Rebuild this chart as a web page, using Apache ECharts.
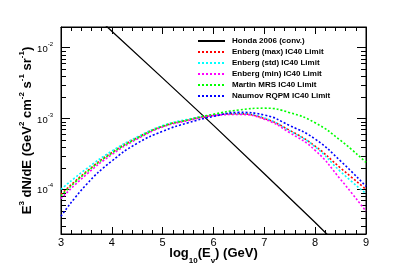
<!DOCTYPE html>
<html><head><meta charset="utf-8">
<script src="https://cdn.jsdelivr.net/npm/echarts@6/dist/echarts.min.js"></script>
<style>html,body{margin:0;padding:0;background:#fff}#c{width:407px;height:276px}</style>
</head><body><div id="c"></div>
<script>
// x: log10(E/GeV)
const logE = [3, 3.5, 4, 4.5, 5, 5.5, 6, 6.5, 7, 7.5, 8, 8.5, 9];
const hondaE = [3, 3.5, 4, 5, 6, 7, 8, 8.5, 9];
const honda      = [0.078, 0.0366, 0.0171, 0.00372, 8.0e-4, 1.66e-4, 3.4e-5, 1.5e-5, 6.7e-6];
const enbergMax  = [8.5e-5, 1.78e-4, 3.31e-4, 5.37e-4, 7.76e-4, 9.55e-4, 1.11e-3, 1.165e-3, 1.0e-3, 6.8e-4, 4.07e-4, 2.0e-4, 1.0e-4];
const enbergStd  = [1.0e-4, 1.95e-4, 3.47e-4, 5.50e-4, 7.94e-4, 9.77e-4, 1.12e-3, 1.165e-3, 1.02e-3, 6.7e-4, 3.98e-4, 1.78e-4, 8.7e-5];
const enbergMin  = [7.4e-5, 1.62e-4, 3.09e-4, 5.13e-4, 7.59e-4, 9.33e-4, 1.10e-3, 1.14e-3, 9.8e-4, 6.3e-4, 3.55e-4, 1.38e-4, 4.9e-5];
const martinMRS  = [8.1e-5, 1.74e-4, 3.24e-4, 5.25e-4, 7.76e-4, 9.55e-4, 1.15e-3, 1.32e-3, 1.40e-3, 1.21e-3, 8.7e-4, 4.9e-4, 2.4e-4];
const naumovRQPM = [4.17e-5, 1.17e-4, 2.51e-4, 4.47e-4, 6.61e-4, 8.7e-4, 1.07e-3, 1.22e-3, 1.12e-3, 7.94e-4, 5.13e-4, 2.51e-4, 1.10e-4];
const seriesNames = ['Honda 2006 (conv.)', 'Enberg (max) IC40 Limit', 'Enberg (std) IC40 Limit', 'Enberg (min) IC40 Limit', 'Martin MRS IC40 Limit', 'Naumov RQPM IC40 Limit'];
const xMin = 3, xMax = 9;
const yMin = 2.34e-5, yMax = 0.0196;
const yMinorTicks = [3e-5,4e-5,5e-5,6e-5,7e-5,8e-5,9e-5, 2e-4,3e-4,4e-4,5e-4,6e-4,7e-4,8e-4,9e-4, 2e-3,3e-3,4e-3,5e-3,6e-3,7e-3,8e-3,9e-3];

const FF = '"Liberation Sans", Arial, Helvetica, sans-serif';
const pair = (xs, ys) => xs.map((x, i) => [x, ys[i]]);
const dashed = (name, color, ys) => ({
  name, type: 'line', data: pair(logE, ys), symbol: 'none', smooth: 0.5,
  lineStyle: { color, width: 1.6, type: [2, 2] }, itemStyle: { color }
});

const chart = echarts.init(document.getElementById('c'), null, { renderer: 'canvas' });
const axisLineStyle = { show: true, lineStyle: { color: '#000', width: 1 } };
chart.setOption({
  animation: false,
  backgroundColor: '#fff',
  grid: { left: 61, top: 27, right: 41, bottom: 42, show: true, borderColor: '#000', borderWidth: 1 },
  legend: {
    data: seriesNames, orient: 'vertical', left: 197, top: 37, padding: 0,
    itemWidth: 27, itemHeight: 9, itemGap: 3,
    itemStyle: { opacity: 0 },
    textStyle: { fontFamily: FF, fontSize: 8, fontWeight: 'bold', color: '#000', padding: [0, 0, 0, 2] }
  },
  xAxis: [{
    type: 'value', min: xMin, max: xMax, interval: 1, position: 'bottom',
    axisLine: axisLineStyle, splitLine: { show: false },
    axisTick: { inside: true, length: 7, lineStyle: { color: '#000' } },
    minorTick: { show: true, splitNumber: 5, length: 4, lineStyle: { color: '#000' } },
    axisLabel: { margin: 3, fontFamily: FF, fontSize: 11, color: '#000' },
    name: '{b|log}{u|10}{b|(E}{u|ν}{b|) (GeV)}', nameLocation: 'middle', nameGap: 13, nameMoveOverlap: false,
    nameTextStyle: { rich: {
      b: { fontFamily: FF, fontSize: 13, fontWeight: 'bold', color: '#000', verticalAlign: 'top', lineHeight: 18 },
      u: { fontFamily: FF, fontSize: 8, fontWeight: 'bold', color: '#000', verticalAlign: 'bottom', lineHeight: 18 }
    } }
  }, {
    type: 'value', min: xMin, max: xMax, interval: 1, position: 'top',
    axisLine: axisLineStyle, splitLine: { show: false },
    axisTick: { inside: true, length: 7, lineStyle: { color: '#000' } },
    minorTick: { show: true, splitNumber: 5, length: 4, lineStyle: { color: '#000' } },
    axisLabel: { show: false }
  }],
  yAxis: [{
    type: 'log', logBase: 10, min: yMin, max: yMax, position: 'left',
    axisLine: axisLineStyle, splitLine: { show: false },
    axisTick: { inside: true, length: 9, lineStyle: { color: '#000' } },
    axisLabel: {
      margin: 8, showMinLabel: false, showMaxLabel: false,
      formatter: v => { const l = Math.log10(v); const e = Math.round(l); return Math.abs(l - e) > 1e-6 ? '' : '{b|10}{s|' + e + '}'; },
      rich: {
        b: { fontFamily: FF, fontSize: 9.5, color: '#000', verticalAlign: 'bottom', lineHeight: 13 },
        s: { fontFamily: FF, fontSize: 6, color: '#000', verticalAlign: 'top', lineHeight: 13 }
      }
    },
    name: '{b|E}{s|3}{b| dN/dE (GeV}{s|2}{b| cm}{s|-2}{b| s}{s|-1}{b| sr}{s|-1}{b|)}',
    nameLocation: 'middle', nameRotate: 90, nameGap: 27, nameMoveOverlap: false,
    nameTextStyle: { rich: {
      b: { fontFamily: FF, fontSize: 13, fontWeight: 'bold', color: '#000', verticalAlign: 'bottom', lineHeight: 16 },
      s: { fontFamily: FF, fontSize: 8, fontWeight: 'bold', color: '#000', verticalAlign: 'top', lineHeight: 16 }
    } }
  }, {
    type: 'log', logBase: 10, min: yMin, max: yMax, position: 'right',
    axisLine: axisLineStyle, splitLine: { show: false },
    axisTick: { inside: true, length: 9, lineStyle: { color: '#000' } },
    axisLabel: { show: false }
  }],
  series: [
    { name: seriesNames[0], type: 'line', data: pair(hondaE, honda), symbol: 'none',
      lineStyle: { color: '#000', width: 1.3 }, itemStyle: { color: '#000' } },
    dashed(seriesNames[1], '#ff0000', enbergMax),
    dashed(seriesNames[2], '#00ffff', enbergStd),
    dashed(seriesNames[3], '#ff00ff', enbergMin),
    dashed(seriesNames[4], '#00ff00', martinMRS),
    dashed(seriesNames[5], '#0000ff', naumovRQPM),
    {
      type: 'custom', name: 'yminor', silent: true, clip: false,
      data: yMinorTicks.map(v => [xMin, v]), encode: { x: 0, y: 1 },
      renderItem: (params, api) => {
        const v = api.value(1);
        const pL = api.coord([xMin, v]), pR = api.coord([xMax, v]);
        const y = Math.round(pL[1]) + 0.5;
        return { type: 'group', children: [
          { type: 'line', shape: { x1: pL[0], y1: y, x2: pL[0] + 5, y2: y }, style: { stroke: '#000', lineWidth: 1 } },
          { type: 'line', shape: { x1: pR[0], y1: y, x2: pR[0] - 5, y2: y }, style: { stroke: '#000', lineWidth: 1 } }
        ] };
      }
    }
  ]
});
</script>
</body></html>
